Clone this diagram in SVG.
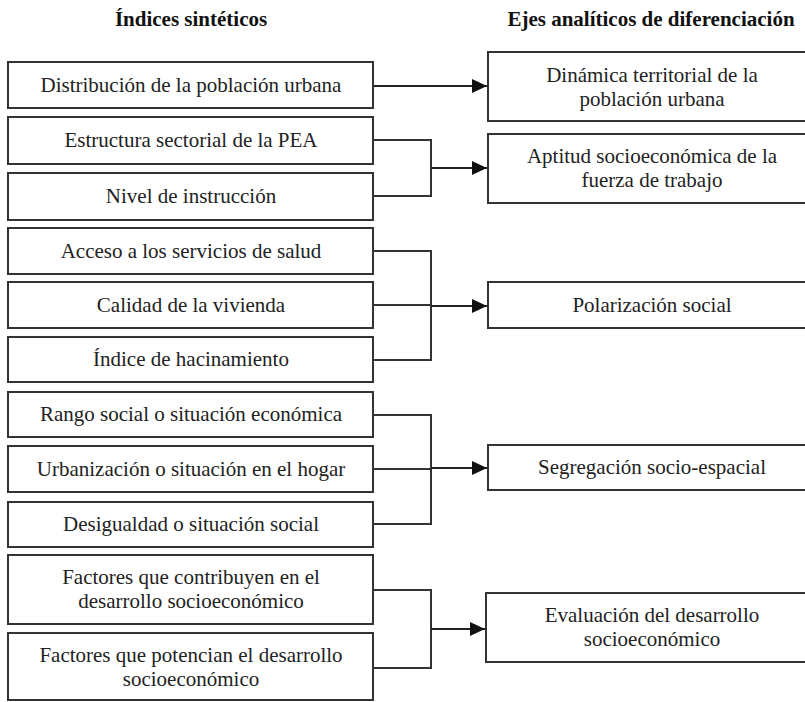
<svg xmlns="http://www.w3.org/2000/svg" width="805" height="702" viewBox="0 0 805 702">
<defs>
<marker id="arr" markerUnits="userSpaceOnUse" markerWidth="16" markerHeight="16" refX="15" refY="7" orient="auto">
<path d="M0,0 L15,7 L0,14 Z" fill="#111"/>
</marker>
</defs>
<style>
.box{fill:#fff;stroke:#333;stroke-width:2}
text{font-family:'Liberation Serif','Times New Roman',serif}
.t{font-size:21px;fill:#222;text-anchor:middle}
.h{font-size:21px;font-weight:bold;fill:#111;text-anchor:middle}
.c{fill:none;stroke:#333;stroke-width:2}
.a{fill:none;stroke:#222;stroke-width:2;marker-end:url(#arr)}
</style>
<rect width="805" height="702" fill="#fff"/>
<text class="h" x="191" y="26">Índices sintéticos</text>
<text class="h" x="651" y="26">Ejes analíticos de diferenciación</text>

<g id="connectors">
<path class="a" d="M373,86 H487"/>
<path class="c" d="M373,140 H431 V196 H373"/>
<path class="a" d="M431,168 H487"/>
<path class="c" d="M373,251 H431 V360 H373 M373,305 H431"/>
<path class="a" d="M431,306 H487"/>
<path class="c" d="M373,415 H431 V524 H373 M373,469 H431"/>
<path class="a" d="M431,468 H487"/>
<path class="c" d="M373,590 H431 V668 H373"/>
<path class="a" d="M431,629 H485"/>
</g>

<g id="n1"><rect class="box" x="8" y="62" width="365" height="46"/><text class="t" x="191" y="92">Distribución de la población urbana</text></g>
<g id="n2"><rect class="box" x="8" y="117" width="365" height="47"/><text class="t" x="191" y="147">Estructura sectorial de la PEA</text></g>
<g id="n3"><rect class="box" x="8" y="173" width="365" height="47"/><text class="t" x="191" y="203">Nivel de instrucción</text></g>
<g id="n4"><rect class="box" x="8" y="228" width="365" height="46"/><text class="t" x="191" y="258">Acceso a los servicios de salud</text></g>
<g id="n5"><rect class="box" x="8" y="282" width="365" height="46"/><text class="t" x="191" y="312">Calidad de la vivienda</text></g>
<g id="n6"><rect class="box" x="8" y="337" width="365" height="45"/><text class="t" x="191" y="366">Índice de hacinamiento</text></g>
<g id="n7"><rect class="box" x="8" y="392" width="365" height="45"/><text class="t" x="191" y="421">Rango social o situación económica</text></g>
<g id="n8"><rect class="box" x="8" y="446" width="365" height="46"/><text class="t" x="191" y="476">Urbanización o situación en el hogar</text></g>
<g id="n9"><rect class="box" x="8" y="502" width="365" height="45"/><text class="t" x="191" y="531">Desigualdad o situación social</text></g>
<g id="n10"><rect class="box" x="8" y="555" width="365" height="69"/><text class="t" x="191" y="584">Factores que contribuyen en el</text><text class="t" x="191" y="608">desarrollo socioeconómico</text></g>
<g id="n11"><rect class="box" x="8" y="633" width="365" height="67"/><text class="t" x="191" y="662">Factores que potencian el desarrollo</text><text class="t" x="191" y="686">socioeconómico</text></g>

<g id="r1"><rect class="box" x="488" y="52" width="330" height="69"/><text class="t" x="652" y="82">Dinámica territorial de la</text><text class="t" x="652" y="106">población urbana</text></g>
<g id="r2"><rect class="box" x="488" y="134" width="330" height="69"/><text class="t" x="652" y="163">Aptitud socioeconómica de la</text><text class="t" x="652" y="187">fuerza de trabajo</text></g>
<g id="r3"><rect class="box" x="488" y="282" width="330" height="46"/><text class="t" x="652" y="312">Polarización social</text></g>
<g id="r4"><rect class="box" x="488" y="445" width="330" height="45"/><text class="t" x="652" y="474">Segregación socio-espacial</text></g>
<g id="r5"><rect class="box" x="486" y="593" width="332" height="69"/><text class="t" x="652" y="622">Evaluación del desarrollo</text><text class="t" x="652" y="646">socioeconómico</text></g>
</svg>
